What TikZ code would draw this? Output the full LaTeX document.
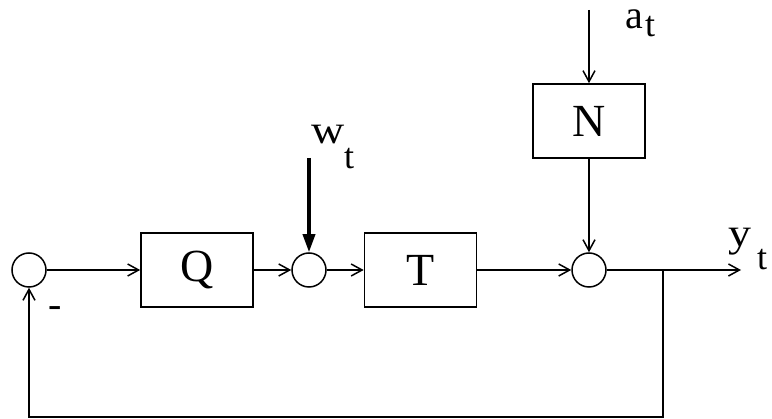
\documentclass[tikz,border=0pt]{standalone}
\usepackage{fontspec}
\setmainfont{Liberation Serif}
\usetikzlibrary{arrows.meta}
\tikzset{
  wire/.style={line width=1.5pt},
  thinarrow/.style={wire,-{Straight Barb[length=11pt,width=12pt,line width=1.5pt]}},
  thickarrow/.style={line width=3.5pt,-{Triangle[length=18pt,width=12pt]}},
  sumc/.style={circle,draw,line width=1.5pt,minimum size=34pt,inner sep=0pt},
  blk/.style={draw,line width=1.6pt,minimum width=112pt,minimum height=74pt,inner sep=0pt,
    font=\fontsize{46}{46}\selectfont},
  sig/.style={inner sep=0pt,anchor=base west,font=\fontsize{40}{40}\selectfont},
  subt/.style={inner sep=0pt,anchor=base west,font=\fontsize{36}{36}\selectfont},
  wide/.style={xscale=1.15}
}
\begin{document}
\begin{tikzpicture}[x=1pt,y=-1pt]
\useasboundingbox (0,0) rectangle (772,419);
\node[sumc] (s1) at (29,270) {};
\node[blk] (Q) at (197,270) {Q};
\node[sumc] (s2) at (309,270) {};
\node[blk] (T) at (420.5,270) {T};
\node[sumc] (s3) at (589,270) {};
\node[blk] (N) at (589,121) {N};
\coordinate (atop) at (589,10);
\coordinate (wtop) at (309,158);
\coordinate (yout) at (741,270);
\coordinate (br) at (663,270);
\coordinate (br1) at (663,417);
\coordinate (br2) at (29,417);
\draw[thinarrow] (s1) -- (Q);
\draw[thinarrow] (Q) -- (s2);
\draw[thinarrow] (s2) -- (T);
\draw[thinarrow] (T) -- (s3);
\draw[thinarrow] (atop) -- (N);
\draw[thinarrow] (N) -- (s3);
\draw[thickarrow] (wtop) -- (s2);
\draw[thinarrow] (s3) -- (yout);
\draw[thinarrow] (br) -- (br1) -- (br2) -- (s1);
\node[sig] (al) at (625,28.3) {a};
\node[subt] (alt) at (645,37) {t};
\node[sig,wide] (wl) at (311,144) {w};
\node[subt] (wlt) at (344,169) {t};
\node[sig,wide] (yl) at (728,246.5) {y};
\node[subt] (ylt) at (757,270) {t};
\node[sig] (minus) at (48,318) {-};
\end{tikzpicture}
\end{document}
